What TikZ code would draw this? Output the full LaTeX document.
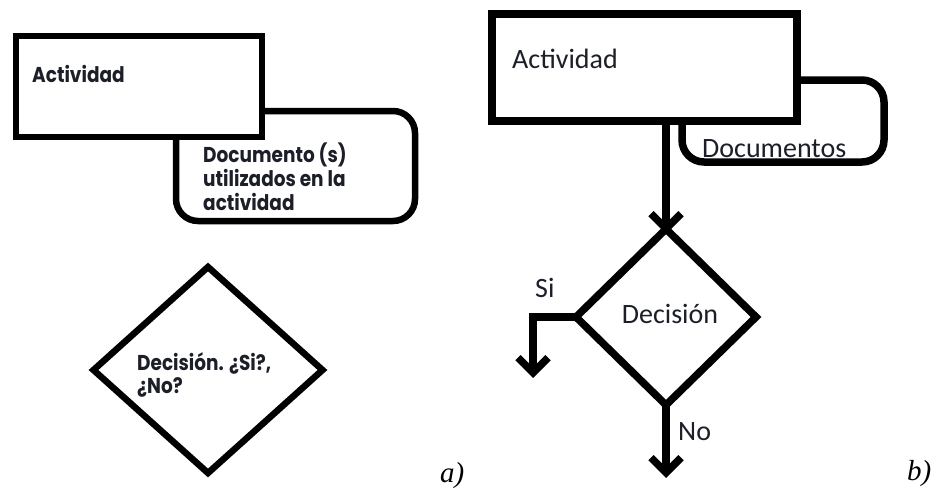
\documentclass[tikz,border=0pt]{standalone}
\usepackage{fontspec}
\usetikzlibrary{shapes.geometric,arrows.meta}
\newfontfamily\geofont[FakeStretch=0.86]{Poppins}
\newfontfamily\calibfont{Carlito}
\newfontfamily\timesfont{Liberation Serif}
\definecolor{ink}{RGB}{28,30,40}

\begin{document}
\begin{tikzpicture}[x=1pt,y=-1pt,
  linea/.style={draw=black,line width=6.5pt},
  lineb/.style={draw=black,line width=7.5pt},
  boxa/.style={linea,fill=white,rectangle,inner sep=0pt,outer sep=0pt},
  boxb/.style={lineb,fill=white,rectangle,inner sep=0pt,outer sep=0pt},
  docsbox/.style={linea,rectangle,rounded corners=22pt,inner sep=0pt,outer sep=0pt},
  diaa/.style={linea,diamond,inner sep=0pt,outer sep=0pt},
  diab/.style={lineb,diamond,inner sep=0pt,outer sep=0pt},
  arrb/.style={-{Straight Barb[length=15pt,width=30pt]},shorten >=-5pt},
  txta/.style={inner sep=0pt,text=ink,font=\geofont\bfseries\fontsize{21.5}{24}\selectfont},
  txtb/.style={inner sep=0pt,text=ink,font=\calibfont\fontsize{28}{32}\selectfont},
  caption/.style={inner sep=0pt,text=black,font=\timesfont\itshape\fontsize{29}{34}\selectfont}]
\useasboundingbox (0,0) rectangle (933,490);

% ---- a) symbols ----
\node[docsbox,minimum width=239pt,minimum height=110pt,anchor=north west] (docsa) at (176,111) {};
\node[boxa,minimum width=246pt,minimum height=101pt,anchor=north west] (acta) at (16,36) {};
\node[diaa,minimum width=229pt,minimum height=206pt] (decia) at (208,370) {};

\node[txta,anchor=base west] (actaT) at (32,82) {Actividad};
\node[txta,anchor=base west] (docsaT1) at (203,162) {Documento (s)};
\node[txta,anchor=base west] (docsaT2) at (203,186) {utilizados en la};
\node[txta,anchor=base west] (docsaT3) at (203,210) {actividad};
\node[txta,anchor=base west] (deciaT1) at (137,370) {Decisión. ¿Si?,};
\node[txta,anchor=base west] (deciaT2) at (137,393) {¿No?};
\node[caption,anchor=base west] (capa) at (440,482) {a)};

% ---- b) symbols ----
\coordinate (docsTR) at (884,80);
\coordinate (docsBL) at (682,162);
\node[boxb,minimum width=305pt,minimum height=107pt,anchor=north west] (actb) at (492,14) {};
\draw[lineb,rounded corners=22pt] (actb.east |- docsTR) -- (docsTR) -- (docsTR |- docsBL) -- (docsBL) -- (docsBL |- actb.south);
\node[diab,minimum width=180pt,minimum height=176pt] (decib) at (666,317) {};

\coordinate (siEnd) at (533,373);
\coordinate (noEnd) at (666,473);
\draw[lineb,arrb] (actb.south -| decib.north) -- (decib.north);
\draw[lineb,arrb] (decib.west) -| (siEnd);
\draw[lineb,arrb] (decib.south) -- (noEnd);

\node[txtb,anchor=base west] (actbT) at (512,68) {Actividad};
\node[txtb,anchor=base west] (docsbT) at (702,157) {Documentos};
\node[txtb,anchor=base] (decibT) at (670,323) {Decisión};
\node[txtb,anchor=base west] (siT) at (535,297) {Si};
\node[txtb,anchor=base west] (noT) at (678,440) {No};
\node[caption,anchor=base west] (capb) at (907,480) {b)};
\end{tikzpicture}
\end{document}
